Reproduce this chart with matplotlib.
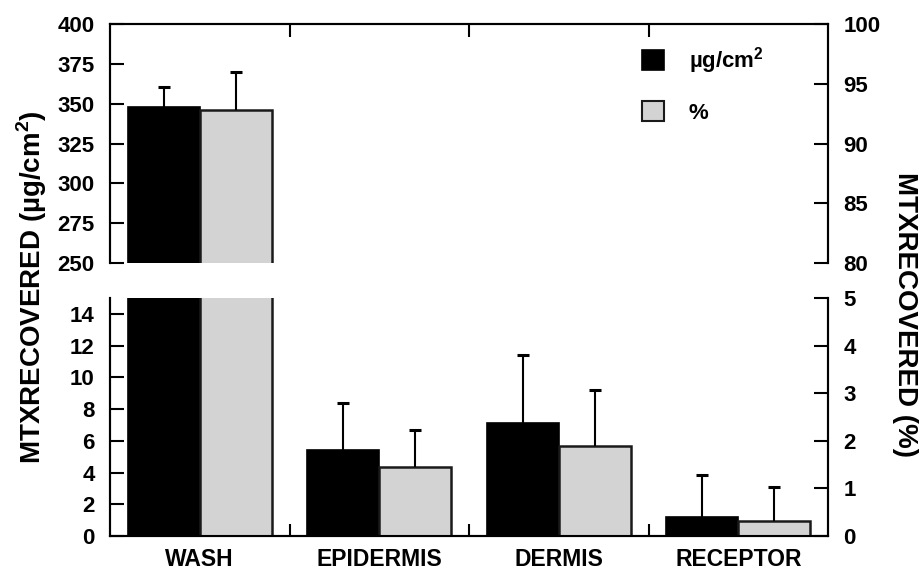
import matplotlib
matplotlib.use("Agg")
import matplotlib.pyplot as plt
from matplotlib.patches import Patch
import numpy as np

plt.rcParams['font.family'] = ['Liberation Sans', 'DejaVu Sans']
plt.rcParams['font.weight'] = 'bold'
plt.rcParams['mathtext.fontset'] = 'custom'
plt.rcParams['mathtext.rm'] = 'Liberation Sans:bold'
plt.rcParams['mathtext.bf'] = 'Liberation Sans:bold'

categories = ["WASH", "EPIDERMIS", "DERMIS", "RECEPTOR"]
ug_cm2 = [348.0, 5.42, 7.14, 1.22]
ug_cm2_err = [12.5, 2.94, 4.25, 2.62]
percent = [92.8, 1.45, 1.90, 0.32]
percent_err = [3.2, 0.77, 1.16, 0.70]

left_top_ticks = [250, 275, 300, 325, 350, 375, 400]
left_bot_ticks = [0, 2, 4, 6, 8, 10, 12, 14]
right_top_ticks = [80, 85, 90, 95, 100]
right_bot_ticks = [0, 1, 2, 3, 4, 5]

black = "#000000"
grey = "#d3d3d3"
width = 0.4
x = np.arange(len(categories))


def upper_errorbar(ax, xs, ys, errs):
    """Error bar drawn only above the bar top."""
    _, caps, _ = ax.errorbar(xs, ys, yerr=[np.zeros(len(xs)), errs], fmt='none',
                             ecolor=black, elinewidth=1.5, capsize=4, capthick=2.2)
    caps[0].set_visible(False)


fig = plt.figure(figsize=(9.21, 5.72), dpi=100)
ax_top = fig.add_axes([110 / 921, 1 - 263 / 572, 718 / 921, 239 / 572])
ax_bot = fig.add_axes([110 / 921, 1 - 536 / 572, 718 / 921, 238 / 572])
ax_top_r = ax_top.twinx()
ax_bot_r = ax_bot.twinx()

for axl, axr, ylim_l, ylim_r in [
    (ax_top, ax_top_r, (250, 400), (80, 100)),
    (ax_bot, ax_bot_r, (0, 15), (0, 5)),
]:
    axl.bar(x - width / 2, ug_cm2, width, color=black, edgecolor=black, linewidth=1.2)
    upper_errorbar(axl, x - width / 2, ug_cm2, ug_cm2_err)
    axr.bar(x + width / 2, percent, width, color=grey, edgecolor="#1a1a1a", linewidth=1.8)
    upper_errorbar(axr, x + width / 2, percent, percent_err)
    axl.set_ylim(*ylim_l)
    axr.set_ylim(*ylim_r)
    axl.set_xlim(-0.5, 3.5)
    for a in (axl, axr):
        for s in a.spines.values():
            s.set_linewidth(1.5)
        a.set_zorder(1)
    axr.set_zorder(2)
    axr.patch.set_visible(False)

# Broken axis: no bottom spine on the top panel, no top spine on the lower panel
for a in (ax_top, ax_top_r):
    a.spines['bottom'].set_visible(False)
for a in (ax_bot, ax_bot_r):
    a.spines['top'].set_visible(False)

tick_kw = dict(direction='in', length=10, width=1.5, labelsize=16, pad=11)
ax_top.set_yticks(left_top_ticks)
ax_bot.set_yticks(left_bot_ticks)
ax_top_r.set_yticks(right_top_ticks)
ax_bot_r.set_yticks(right_bot_ticks)
for a in (ax_top, ax_bot, ax_top_r, ax_bot_r):
    a.tick_params(axis='y', **tick_kw)
    for lbl in a.get_yticklabels():
        lbl.set_fontweight('bold')

# Category labels and group separators
sep = [0.5, 1.5, 2.5]
ax_bot.set_xticks(x)
ax_bot.set_xticklabels(categories, fontsize=16.5, fontweight='bold')
ax_bot.tick_params(axis='x', which='major', length=0, pad=9)
ax_bot.set_xticks(sep, minor=True)
ax_bot.tick_params(axis='x', which='minor', direction='in', length=9, width=1.5)

ax_top.set_xticks([])
ax_top.set_xticks(sep, minor=True)
ax_top.tick_params(axis='x', which='minor', direction='in', length=9, width=1.5,
                   bottom=False, top=True, labelbottom=False)
ax_top_r.set_xticks([])

fig.text(0.035, 1 - 287 / 572, r"MTXRECOVERED (µg/cm$^{2}$)", rotation=90,
         ha='center', va='center', fontsize=20, fontweight='bold')
fig.text(0.983, 1 - 315 / 572, "MTXRECOVERED (%)", rotation=-90,
         ha='center', va='center', fontsize=20, fontweight='bold')

handles = [Patch(facecolor=black, edgecolor=black, linewidth=1.2),
           Patch(facecolor=grey, edgecolor="#1a1a1a", linewidth=1.5)]
fig.legend(handles, [r"µg/cm$^{2}$", "%"], loc='upper left',
           bbox_to_anchor=(633 / 921, 1 - 36 / 572), frameon=False,
           prop={'size': 16, 'weight': 'bold'}, handlelength=1.0, handleheight=1.0,
           handletextpad=1.1, labelspacing=1.15, borderaxespad=0)

fig.savefig("out.png", dpi=100)
